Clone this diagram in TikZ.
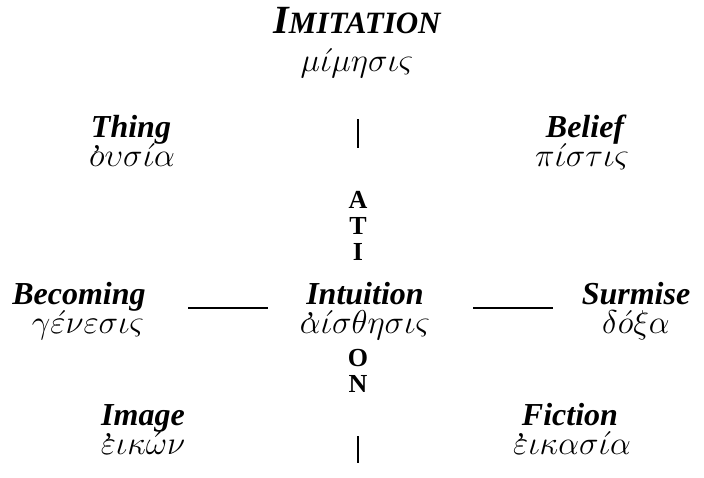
\RequirePackage{fix-cm}
\documentclass[tikz,border=0pt]{standalone}
\usepackage{amsmath}
\usepackage{fontspec}
\setmainfont{Liberation Serif}
\usetikzlibrary{positioning}

% smooth breathing over a letter
\newcommand{\psili}[1]{\ooalign{#1\cr\hidewidth\raisebox{1pt}{\fontsize{30}{30}\selectfont’}\hidewidth\cr}}

\begin{document}
\begin{tikzpicture}[x=1pt,y=-1pt,node distance=29pt]

	\tikzstyle{word} = [font=\fontsize{32}{38}\selectfont\bfseries\itshape, text height=22pt, text depth=7pt, inner sep=0pt]
	\tikzstyle{greek} = [font=\fontsize{33}{38}\selectfont, text height=22pt, text depth=7pt, inner sep=0pt]
	\tikzstyle{letter} = [font=\fontsize{26}{30}\selectfont\bfseries, text height=18pt, text depth=0pt, inner sep=0pt]
	\tikzstyle{bar} = [line width=1.3pt]

	\useasboundingbox (0,0) rectangle (704,477);

	% Nodes
	\node (imitation) [word] at (357,25.5) {\fontsize{40}{44}\selectfont I\fontsize{31}{36}\selectfont MITATION};
	\node (mimesis) [greek, below of=imitation, yshift=-9pt] {$\mu\acute{\iota}\mu\eta\sigma\iota\varsigma$};

	\node (thing) [word] at (131,129.5) {Thing};
	\node (ousia) [greek, below of=thing, xshift=1pt] {\psili{$o$}$\upsilon\sigma\acute{\iota}\alpha$};
	\node (belief) [word] at (585,129.5) {Belief};
	\node (pistis) [greek, below of=belief, xshift=-3pt] {$\pi\acute{\iota}\sigma\tau\iota\varsigma$};

	\node (la) [letter] at (358,199) {A};
	\node (lt) [letter, below of=la, yshift=3pt] {T};
	\node (li) [letter, below of=lt, yshift=3pt] {I};

	\node (intuition) [word] at (365,296.5) {Intuition};
	\node (aisthesis) [greek, below of=intuition] {\psili{$\alpha$}$\acute{\iota}\sigma\theta\eta\sigma\iota\varsigma$};
	\node (becoming) [word] at (79,296.5) {Becoming};
	\node (genesis) [greek, below of=becoming, xshift=9pt] {$\gamma\acute{\varepsilon}\nu\varepsilon\sigma\iota\varsigma$};
	\node (surmise) [word] at (636,296.5) {Surmise};
	\node (doxa) [greek, below of=surmise] {$\delta\acute{o}\xi\alpha$};

	\node (lo) [letter] at (358,357) {O};
	\node (ln) [letter, below of=lo, yshift=3pt] {N};

	\node (image) [word] at (143,417.5) {Image};
	\node (eikon) [greek, below of=image] {\psili{$\varepsilon$}$\iota\kappa\acute{\omega}\nu$};
	\node (fiction) [word] at (570,417.5) {Fiction};
	\node (eikasia) [greek, below of=fiction, xshift=2pt] {\psili{$\varepsilon$}$\iota\kappa\alpha\sigma\acute{\iota}\alpha$};

	% Bars
	\coordinate (topa) at (358,119);
	\coordinate (topb) at (358,148);
	\coordinate (lefta) at (188,308);
	\coordinate (leftb) at (268,308);
	\coordinate (righta) at (473,308);
	\coordinate (rightb) at (553,308);
	\coordinate (bota) at (358,436);
	\coordinate (botb) at (358,463);

	\draw [bar] (topa) -- (topb);
	\draw [bar] (lefta) -- (leftb);
	\draw [bar] (righta) -- (rightb);
	\draw [bar] (bota) -- (botb);

\end{tikzpicture}
\end{document}
